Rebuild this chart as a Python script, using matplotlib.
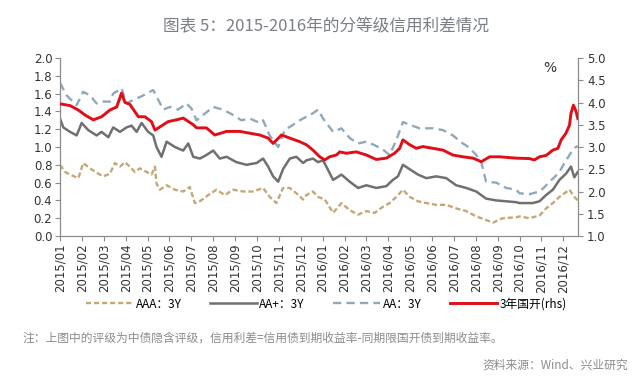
import matplotlib
matplotlib.use("Agg")
import matplotlib.pyplot as plt
from matplotlib.lines import Line2D

plt.rcParams['font.family'] = ['DejaVu Sans']

# x positions are months since 2015/01 (0 = start of Jan 2015)
month_labels = [f"{y}/{m:02d}" for y in (2015, 2016) for m in range(1, 13)]

aa_x = [0.00, 0.30, 0.76, 1.06, 1.37, 1.67, 1.98, 2.28, 2.43, 2.81, 3.04, 3.35, 3.73, 4.26, 4.49,
        4.72, 5.02, 5.40, 5.78, 6.01, 6.24, 6.54, 7.00, 7.45, 7.91, 8.29, 8.67, 9.13, 9.28, 9.58,
        9.97, 10.27, 10.65, 10.95, 11.26, 11.56, 11.79, 12.02, 12.48, 12.86, 13.24, 13.62, 14.00,
        14.38, 14.76, 15.06, 15.37, 15.67, 15.98, 16.43, 17.04, 17.50, 17.95, 18.41, 18.71, 19.02,
        19.25, 19.47, 19.93, 20.39, 20.84, 21.00, 21.45, 21.91, 22.14, 22.36, 22.59, 22.82, 23.05,
        23.28, 23.51, 23.66]
aa_y = [1.72, 1.58, 1.47, 1.62, 1.58, 1.49, 1.51, 1.51, 1.60, 1.66, 1.49, 1.53, 1.57, 1.64, 1.53,
        1.42, 1.45, 1.42, 1.49, 1.43, 1.30, 1.36, 1.45, 1.42, 1.36, 1.30, 1.32, 1.27, 1.30, 1.13,
        1.00, 1.19, 1.25, 1.30, 1.34, 1.38, 1.42, 1.32, 1.17, 1.21, 1.10, 1.04, 1.06,
        1.02, 0.97, 0.91, 1.08, 1.28, 1.25, 1.21, 1.21, 1.19, 1.13, 1.04, 0.99, 0.91,
        0.83, 0.61, 0.60, 0.54, 0.52, 0.48, 0.47, 0.50, 0.55, 0.61, 0.66, 0.72, 0.82,
        0.91, 0.99, 1.01]

aap_x = [0.00, 0.15, 0.46, 0.76, 0.99, 1.29, 1.67, 1.90, 2.21, 2.43, 2.74, 3.04, 3.27, 3.50, 3.73,
         4.03, 4.26, 4.41, 4.64, 4.87, 5.25, 5.63, 5.86, 6.09, 6.39, 6.69, 7.00, 7.30, 7.61, 8.06,
         8.52, 8.98, 9.28, 9.51, 9.74, 9.97, 10.19, 10.50, 10.80, 11.11, 11.26, 11.56, 11.79, 12.02,
         12.17, 12.48, 12.86, 13.24, 13.62, 14.00, 14.45, 14.91, 15.21, 15.44, 15.67, 15.98, 16.36,
         16.74, 17.19, 17.65, 18.10, 18.56, 19.02, 19.47, 19.93, 20.39, 20.84, 21.00, 21.60, 21.91,
         22.21, 22.52, 22.82, 23.12, 23.35, 23.50, 23.66]
aap_y = [1.32, 1.22, 1.17, 1.13, 1.27, 1.19, 1.13, 1.17, 1.11, 1.22, 1.17, 1.22, 1.24, 1.17, 1.27,
         1.17, 1.13, 1.00, 0.89, 1.06, 1.00, 0.96, 1.04, 0.89, 0.87, 0.91, 0.96, 0.87, 0.89, 0.83,
         0.80, 0.82, 0.87, 0.78, 0.67, 0.61, 0.75, 0.87, 0.89, 0.82, 0.85, 0.87, 0.83, 0.85,
         0.78, 0.63, 0.69, 0.61, 0.54, 0.57, 0.54, 0.56, 0.63, 0.67, 0.80, 0.75, 0.69,
         0.65, 0.67, 0.65, 0.57, 0.54, 0.50, 0.42, 0.40, 0.39, 0.38, 0.37, 0.37, 0.39,
         0.46, 0.52, 0.63, 0.70, 0.78, 0.66, 0.72]

aaa_x = [0.00, 0.23, 0.46, 0.84, 1.06, 1.37, 1.75, 1.98, 2.28, 2.51, 2.74, 2.97, 3.19, 3.42, 3.65,
         3.96, 4.18, 4.34, 4.41, 4.56, 4.87, 5.25, 5.63, 5.93, 6.16, 6.39, 6.77, 7.15, 7.53, 7.91,
         8.37, 8.82, 9.28, 9.58, 9.89, 10.19, 10.50, 10.80, 11.11, 11.26, 11.56, 11.79, 12.10, 12.48,
         12.86, 13.24, 13.62, 14.00, 14.38, 14.76, 15.06, 15.37, 15.67, 15.98, 16.36, 16.74, 17.19,
         17.65, 18.10, 18.56, 19.02, 19.47, 19.78, 20.23, 20.84, 21.00, 21.45, 21.91, 22.21, 22.52,
         22.82, 23.05, 23.28, 23.50, 23.66]
aaa_y = [0.80, 0.72, 0.69, 0.65, 0.82, 0.76, 0.70, 0.67, 0.70, 0.82, 0.78, 0.83, 0.78, 0.72, 0.76,
         0.72, 0.69, 0.78, 0.59, 0.52, 0.57, 0.52, 0.50, 0.55, 0.37, 0.39, 0.46, 0.52, 0.46, 0.52,
         0.50, 0.50, 0.54, 0.44, 0.37, 0.54, 0.54, 0.48, 0.41, 0.46, 0.50, 0.44, 0.41, 0.26,
         0.37, 0.29, 0.24, 0.28, 0.26, 0.33, 0.37, 0.44, 0.52, 0.44, 0.39, 0.37, 0.35,
         0.35, 0.31, 0.28, 0.22, 0.18, 0.15, 0.20, 0.21, 0.22, 0.20, 0.23, 0.31, 0.37,
         0.44, 0.48, 0.52, 0.44, 0.40]

cdb_x = [0.00, 0.46, 0.84, 1.14, 1.52, 1.90, 2.28, 2.59, 2.81, 2.97, 3.19, 3.58, 3.88, 4.18, 4.34,
         4.56, 4.94, 5.32, 5.63, 6.09, 6.24, 6.69, 7.07, 7.61, 8.22, 8.67, 9.13, 9.51, 9.74, 10.12,
         10.50, 10.95, 11.26, 11.56, 11.87, 12.10, 12.32, 12.63, 12.78, 13.08, 13.54, 14.00, 14.45,
         14.91, 15.29, 15.52, 15.67, 15.98, 16.28, 16.58, 17.04, 17.50, 17.95, 18.41, 18.87, 19.25,
         19.63, 20.08, 20.84, 21.45, 21.68, 21.91, 22.21, 22.52, 22.75, 22.90, 23.12, 23.28, 23.35,
         23.46, 23.58, 23.66]
cdb_y = [3.97, 3.93, 3.83, 3.72, 3.61, 3.68, 3.83, 3.90, 4.21, 4.00, 3.96, 3.68, 3.68, 3.57, 3.38,
         3.45, 3.57, 3.61, 3.65, 3.50, 3.43, 3.43, 3.27, 3.35, 3.35, 3.31, 3.27, 3.20, 3.08, 3.27,
         3.20, 3.12, 3.05, 2.93, 2.78, 2.71, 2.78, 2.82, 2.89, 2.86, 2.89, 2.82, 2.72,
         2.75, 2.86, 2.97, 3.16, 3.05, 2.97, 3.01, 2.97, 2.93, 2.82, 2.78, 2.75, 2.67,
         2.78, 2.78, 2.75, 2.74, 2.71, 2.78, 2.81, 2.93, 2.97, 3.16, 3.31, 3.49, 3.76,
         3.94, 3.80, 3.64]

fig = plt.figure(figsize=(6.4, 3.89), dpi=100)
ax = fig.add_axes([0.09375, 0.3933, 0.8094, 0.4576])
ax2 = ax.twinx()

c_aaa = '#C3A878'
c_aap = '#707070'
c_aa = '#8FA9BA'
c_red = '#E00E16'

ax.plot(aaa_x, aaa_y, color=c_aaa, lw=1.7, dashes=(2.2, 1.2))
ax.plot(aa_x, aa_y, color=c_aa, lw=1.7, dashes=(3.5, 2.2))
ax.plot(aap_x, aap_y, color=c_aap, lw=1.8)
ax2.plot(cdb_x, cdb_y, color=c_red, lw=2.1)

ax.set_xlim(0, 23.67)
ax.set_ylim(0, 2.0)
ax2.set_ylim(1.0, 5.0)
ax.set_yticks([i / 10 for i in range(0, 21, 2)])
ax.set_yticklabels([f"{i/10:.1f}" for i in range(0, 21, 2)])
ax2.set_yticks([1 + i * 0.5 for i in range(9)])
ax2.set_yticklabels([f"{1 + i*0.5:.1f}" for i in range(9)])
ax.set_xticks(range(24))
ax.set_xticklabels(month_labels, rotation=90)

spc = '#8c8c8c'
for a in (ax, ax2):
    a.spines['top'].set_visible(False)
    for s in ('left', 'right', 'bottom'):
        a.spines[s].set_color(spc)
        a.spines[s].set_linewidth(0.9)
ax.spines['right'].set_visible(False)
ax2.spines['left'].set_visible(False)
ax2.spines['bottom'].set_visible(False)

ax.tick_params(axis='both', direction='out', length=3.5, width=0.8, color=spc,
               labelsize=8.5, labelcolor='#333333', pad=2)
ax2.tick_params(axis='y', direction='out', length=3.5, width=0.8, color=spc,
                labelsize=8.5, labelcolor='#333333', pad=3)

fig.text(550 / 640, 1 - 68 / 389, '%', fontsize=10, color='#333333',
         ha='center', va='center')

cjk = ['Noto Sans CJK SC', 'DejaVu Sans']
fig.text(0.51, 1 - 27 / 389, '图表 5：2015-2016年的分等级信用利差情况', ha='center', va='center',
         fontsize=12, color='#7b7f87', family=cjk)

handles = [
    Line2D([], [], color=c_aaa, lw=1.7, dashes=(2.2, 1.2)),
    Line2D([], [], color=c_aap, lw=1.8),
    Line2D([], [], color=c_aa, lw=1.7, dashes=(3.5, 2.2)),
    Line2D([], [], color=c_red, lw=2.1),
]
labels = ['AAA：3Y', 'AA+：3Y', 'AA：3Y', '3年国开(rhs)']
fig.legend(handles, labels, loc='center', bbox_to_anchor=(0.51, 1 - 304 / 389), ncol=4,
           frameon=False, handlelength=4.0, handletextpad=0.2, columnspacing=2.4,
           prop={'family': cjk, 'size': 8.5})

fig.text(22 / 640, 1 - 338 / 389,
         '注：上图中的评级为中债隐含评级，信用利差=信用债到期收益率-同期限国开债到期收益率。',
         ha='left', va='center', fontsize=8.5, color='#8c8c8c', family=cjk)
fig.text(628 / 640, 1 - 365 / 389, '资料来源：Wind、兴业研究', ha='right', va='center',
         fontsize=8.5, color='#8c8c8c', family=cjk)

fig.savefig('out.png', dpi=100)
